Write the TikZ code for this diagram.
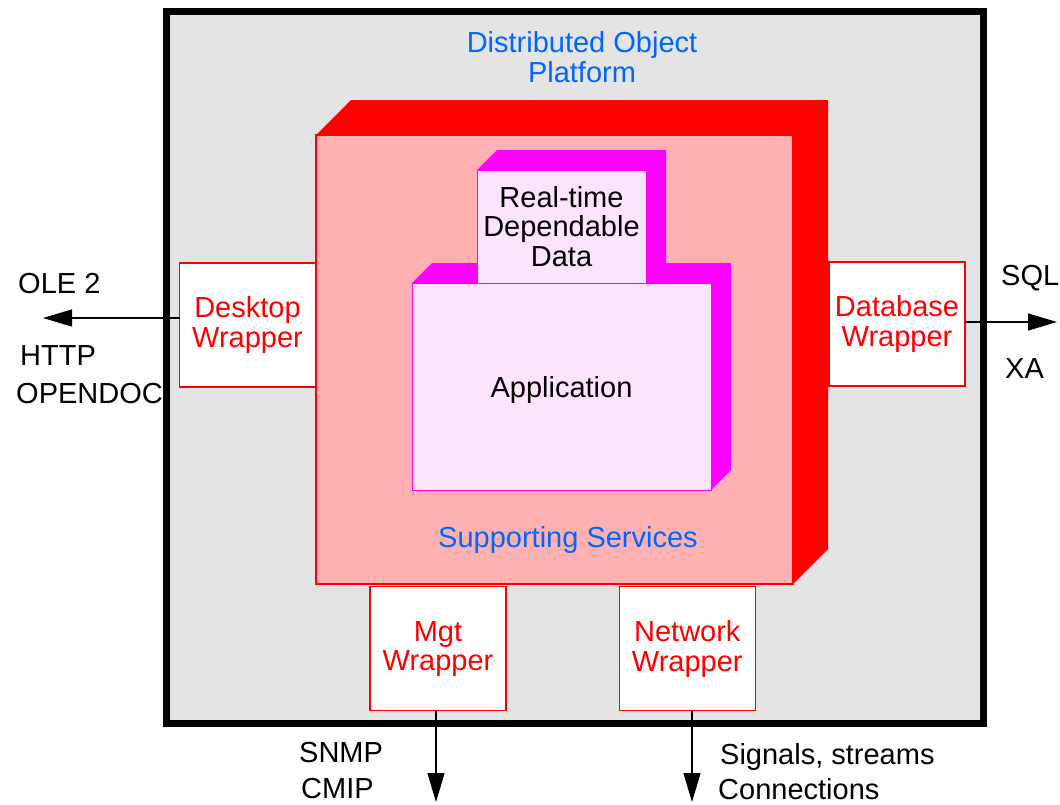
\documentclass[tikz,border=0pt]{standalone}
\usepackage{fontspec}
\setmainfont{Liberation Sans}
\usepackage{tikz}
\usetikzlibrary{arrows.meta}
\definecolor{platgray}{HTML}{E4E4E4}
\definecolor{supppink}{HTML}{FFB0B0}
\definecolor{appmag}{HTML}{FF00FF}
\definecolor{applight}{HTML}{FCE4FC}
\definecolor{dopblue}{HTML}{0066FF}

\begin{document}
\begin{tikzpicture}[x=1pt,y=-1pt,
font=\fontsize{29pt}{29.5pt}\selectfont,
box/.style={rectangle,inner sep=0pt,outer sep=0pt,align=center},
wrapper/.style={box,draw=red,fill=white,text=red,line width=1.2pt,minimum width=136pt,minimum height=124pt},
proto/.style={anchor=base west,inner sep=0pt},
arr/.style={line width=1.2pt,-{Triangle[length=29pt,width=17pt]}}]
\useasboundingbox (0,0) rectangle (1060,804);

\node (Plat) [box,draw=black,fill=platgray,line width=7pt,minimum width=817pt,minimum height=712pt] at (574.5,367) {};
\node (PlatLbl) [text=dopblue,align=center] at (582,57) {Distributed Object\\Platform};

% supporting services
\node (Supp) [box,draw=red,fill=supppink,line width=1.2pt,minimum width=477pt,minimum height=449pt] at (554.5,359.5) {};
\fill[red] (Supp.north west) -- ++(35,-35) -- ++(477,0) -- ++(0,449) -- (Supp.south east) -- (Supp.north east) -- cycle;
\node (SuppLbl) [text=dopblue,anchor=base] at (568,547) {Supporting Services};

\node (App) [box,draw=appmag,fill=applight,line width=1pt,text depth=0pt,minimum width=299pt,minimum height=207pt] at (561.5,386.5) {Application};
\fill[appmag] (App.north west) -- ++(20,-20) -- ++(299,0) -- ++(0,207) -- (App.south east) -- (App.north east) -- cycle;
\node (Data) [box,draw=appmag,fill=applight,line width=1pt,minimum width=169pt,minimum height=113pt] at (561.5,226.5) {Real-time\\Dependable\\Data};
\fill[appmag] (Data.north west) -- ++(20,-20) -- ++(169,0) -- ++(0,113) -- (Data.south east) -- (Data.north east) -- cycle;

\node (Desk) [wrapper] at (247.5,325) {Desktop\\Wrapper};
\node (Db) [wrapper] at (897,324) {Database\\Wrapper};
\node (Mgt) [wrapper] at (438,648.8) {Mgt\\Wrapper};
\node (Net) [wrapper] at (687.3,648.8) {Network\\Wrapper};

\node (Ole) [proto] at (18,293) {OLE 2};
\node (Http) [proto] at (20,365) {HTTP};
\node (Odoc) [proto] at (16,403) {OPENDOC};
\node (Sql) [proto] at (1001,285) {SQL};
\node (Xa) [proto] at (1005,378) {XA};
\node (Snmp) [proto] at (299,762) {SNMP};
\node (Cmip) [proto] at (301,798) {CMIP};
\node (Sig) [proto] at (720,764) {Signals, streams};
\node (Conn) [proto] at (718,799) {Connections};

\coordinate (OleEnd) at (43,318);
\coordinate (SqlEnd) at (1057,322);
\coordinate (SnmpEnd) at (436,802);
\coordinate (SigEnd) at (692,802);
\draw[arr] (Desk.west |- OleEnd) -- (OleEnd);
\draw[arr] (Db.east |- SqlEnd) -- (SqlEnd);
\draw[arr] (Mgt.south -| SnmpEnd) -- (SnmpEnd);
\draw[arr] (Net.south -| SigEnd) -- (SigEnd);
\end{tikzpicture}
\end{document}
